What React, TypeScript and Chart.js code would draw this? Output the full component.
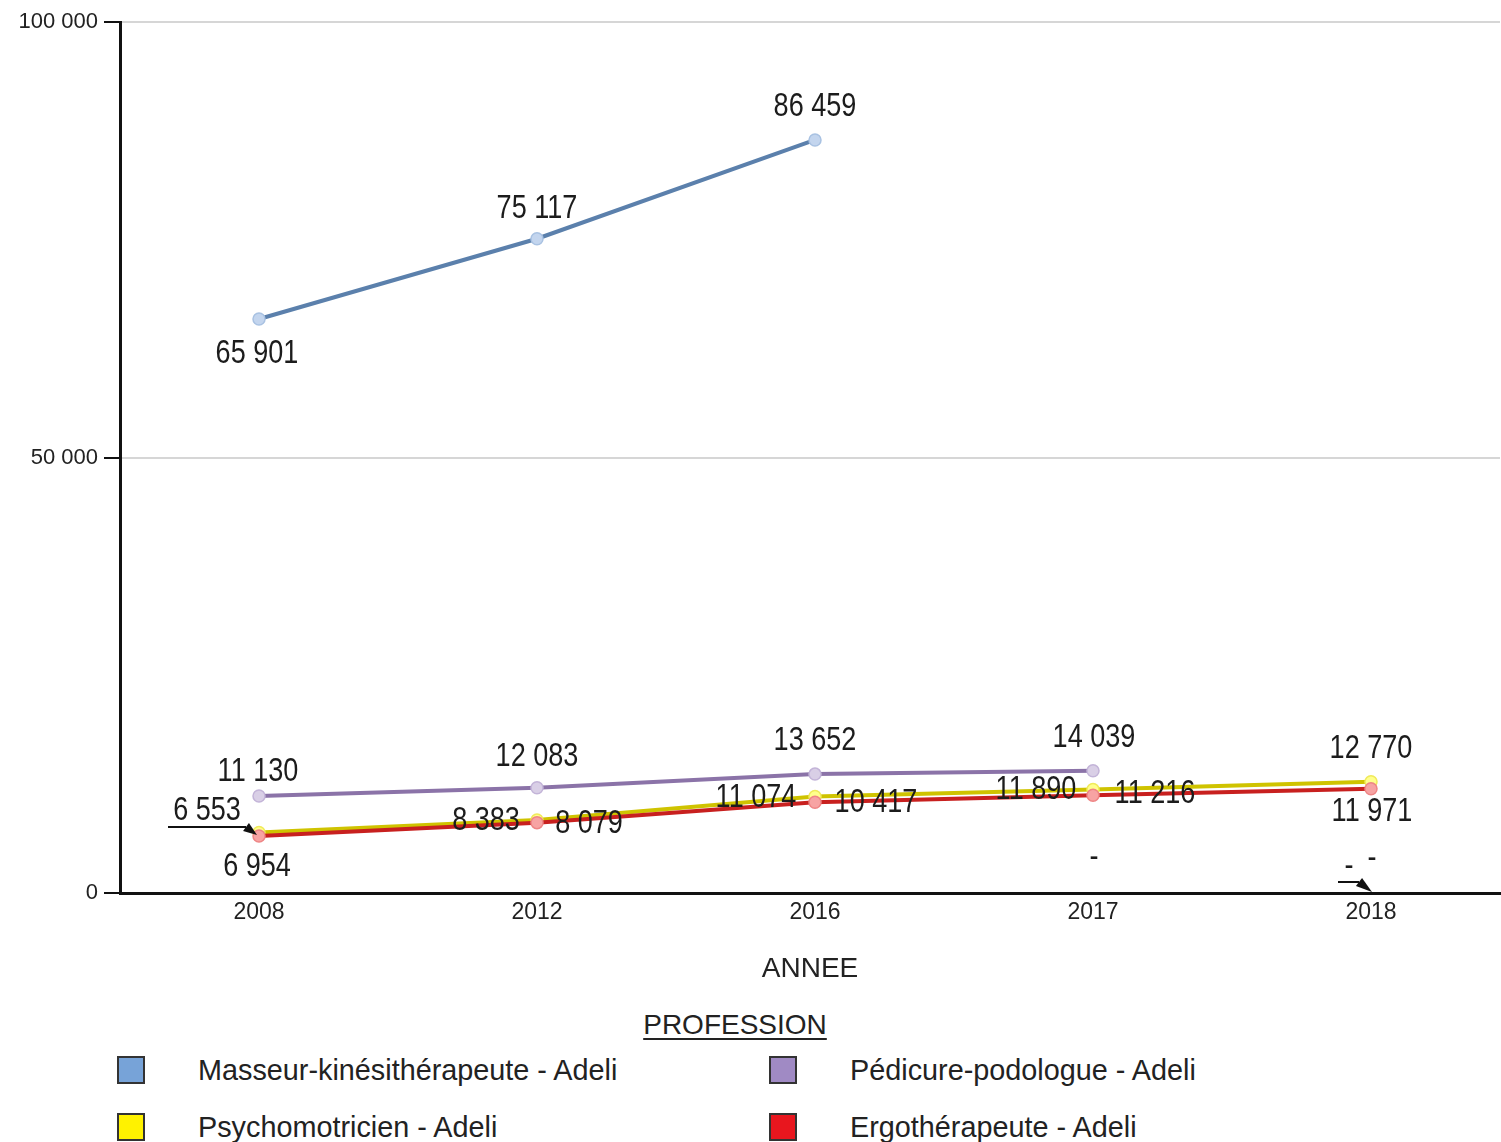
import React, { useEffect, useRef } from "react";
import { Chart, registerables } from "chart.js";

Chart.register(...registerables);

// ---------- data ----------
const categories = ["2008", "2012", "2016", "2017", "2018"];
const seriesNames = [
  "Masseur-kinésithérapeute - Adeli",
  "Pédicure-podologue - Adeli",
  "Psychomotricien - Adeli",
  "Ergothérapeute - Adeli",
];
const masseurValues: (number | null)[] = [65901, 75117, 86459, null, null];
const pedicureValues: (number | null)[] = [11130, 12083, 13652, 14039, null];
const psychoValues: (number | null)[] = [6954, 8383, 11074, 11890, 12770];
const ergoValues: (number | null)[] = [6553, 8079, 10417, 11216, 11971];
const yTickValues = [0, 50000, 100000];
const xAxisTitle = "ANNEE";
const legendTitle = "PROFESSION";

// ---------- styles ----------
const lineColors = ["#5b80ac", "#8b73a8", "#cfc300", "#c8201f"];
const pointFills = ["#c3d5ee", "#d9cfe6", "#ffff8c", "#f7a3a3"];
const pointBorders = ["#a9c2e2", "#c3b4d8", "#f0ea5a", "#ee8585"];
const legendColors = ["#77a3d8", "#a08ac4", "#fff200", "#e8161e"];
const drawOrder = [3, 2, 1, 0];

// label offsets (pixels, relative to the point / baseline for missing values)
const labelOffsets: [number, number][][] = [
  [[-2, 35], [0, -30], [0, -33], [1, -35], [1, -34]],
  [[-1, -24], [0, -31], [0, -33], [1, -33], [-22, -26]],
  [[-2, 34], [-51, 1], [-59, 1], [-57, 0], [0, -33]],
  [[-52, -25], [52, 1], [61, 1], [62, -1], [1, 23]],
];
// arrows: dataset, index, start offset, head base offset, tip offset
const arrows = [
  { ds: 3, i: 0, from: [-91, -9], base: [-13, -9], to: [-2, -1] },
  { ds: 1, i: 4, from: [-33, -11], base: [-12, -11], to: [1, -1] },
];

const SANS = '"Liberation Sans", Arial, sans-serif';
const LABEL_SCALE_X = 0.82;

function fmt(v: number): string {
  return String(Math.round(v)).replace(/\B(?=(\d{3})+(?!\d))/g, " ");
}

const valueLabelPlugin = {
  id: "valueLabels",
  afterDatasetsDraw(chart: any) {
    const ctx = chart.ctx as CanvasRenderingContext2D;
    const xs = chart.scales.x;
    const ys = chart.scales.y;
    ctx.save();
    ctx.font = `33px ${SANS}`;
    ctx.fillStyle = "#1c1c1c";
    ctx.textAlign = "center";
    ctx.textBaseline = "middle";
    const anchor = (di: number, i: number) => {
      const pt = chart.data.datasets[di].data[i];
      const px = xs.getPixelForValue(pt.x);
      const py = ys.getPixelForValue(pt.y == null ? 0 : pt.y);
      return [px, py];
    };
    chart.data.datasets.forEach((ds: any, di: number) => {
      ds.data.forEach((pt: any, i: number) => {
        const [px, py] = anchor(di, i);
        const [dx, dy] = labelOffsets[di][i];
        const text = pt.y == null ? "-" : fmt(pt.y);
        ctx.save();
        ctx.translate(px + dx, py + dy);
        ctx.scale(LABEL_SCALE_X, 1);
        ctx.fillText(text, 0, 0);
        ctx.restore();
      });
    });
    // arrows
    ctx.strokeStyle = "#111";
    ctx.fillStyle = "#111";
    ctx.lineWidth = 2;
    arrows.forEach((a) => {
      const [px, py] = anchor(a.ds, a.i);
      const x1 = px + a.from[0], y1 = py + a.from[1];
      const bx0 = px + a.base[0], by0 = py + a.base[1];
      const x2 = px + a.to[0], y2 = py + a.to[1];
      ctx.beginPath();
      ctx.moveTo(x1, y1);
      ctx.lineTo(bx0, by0);
      ctx.stroke();
      const ang = Math.atan2(y2 - by0, x2 - bx0);
      const hl = Math.hypot(x2 - bx0, y2 - by0);
      const hw = 5;
      const bx = x2 - hl * Math.cos(ang), by = y2 - hl * Math.sin(ang);
      ctx.beginPath();
      ctx.moveTo(x2, y2);
      ctx.lineTo(bx - hw * Math.sin(ang), by + hw * Math.cos(ang));
      ctx.lineTo(bx + hw * Math.sin(ang), by - hw * Math.cos(ang));
      ctx.closePath();
      ctx.fill();
    });
    ctx.restore();
  },
};

function ChartCanvas() {
  const ref = useRef<HTMLCanvasElement | null>(null);
  useEffect(() => {
    if (!ref.current) return;
    const series = [masseurValues, pedicureValues, psychoValues, ergoValues];
    const datasets = series.map((vals, si) => ({
      label: seriesNames[si],
      data: vals.map((v, i) => ({ x: i, y: v })),
      borderColor: lineColors[si],
      backgroundColor: pointFills[si],
      pointBackgroundColor: pointFills[si],
      pointBorderColor: pointBorders[si],
      pointBorderWidth: 1.5,
      pointRadius: 6,
      borderWidth: 4,
      order: drawOrder[si],
      spanGaps: false,
      fill: false,
      tension: 0,
    }));
    const chart = new Chart(ref.current, {
      type: "line",
      data: { datasets },
      plugins: [valueLabelPlugin],
      options: {
        responsive: false,
        animation: false,
        layout: { autoPadding: false, padding: { left: 0, right: 1, top: 22, bottom: 0 } },
        plugins: { legend: { display: false }, tooltip: { enabled: false } },
        scales: {
          x: {
            type: "linear",
            min: -0.5,
            max: (1380 / 278) - 0.5,
            afterBuildTicks: (scale: any) => {
              scale.ticks = categories.map((_, i) => ({ value: i }));
            },
            afterFit: (scale: any) => {
              scale.height = 107;
            },
            grid: { display: false, drawTicks: false },
            border: { display: true, color: "#111", width: 3 },
            ticks: {
              padding: 6,
              autoSkip: false,
              maxRotation: 0,
              color: "#222",
              font: { family: SANS, size: 23 },
              callback: (v: any) => categories[Math.round(Number(v))] ?? "",
            },
            title: {
              display: true,
              text: xAxisTitle,
              color: "#222",
              font: { family: SANS, size: 28 },
              padding: { top: 0, bottom: 14 },
            },
          },
          y: {
            type: "linear",
            min: 0,
            max: 100000,
            afterBuildTicks: (scale: any) => {
              scale.ticks = yTickValues.map((v) => ({ value: v }));
            },
            afterFit: (scale: any) => {
              scale.width = 120;
            },
            grid: {
              display: true,
              color: "#d6d6d6",
              lineWidth: 2,
              drawTicks: true,
              tickLength: 16,
              tickColor: "#111",
              tickWidth: 2,
            },
            border: { display: true, color: "#111", width: 3 },
            ticks: {
              padding: 6,
              color: "#222",
              font: { family: SANS, size: 22 },
              callback: (v: any) => fmt(Number(v)),
            },
          },
        },
      },
    } as any);
    return () => chart.destroy();
  }, []);
  return <canvas ref={ref} width={1501} height={1000} style={{ display: "block", width: 1501, height: 1000 }} />;
}

export default function App() {
  const rows = [
    [0, 1],
    [2, 3],
  ];
  const colSquareX = [117, 769];
  const colTextX = [198, 850];
  const rowCenterY = [1070, 1127];
  return (
    <div style={{ position: "absolute", left: 0, top: 0, width: 1501, height: 1142, background: "#fff", overflow: "hidden" }}>
      <ChartCanvas />
      <div
        style={{
          position: "absolute",
          left: 535,
          width: 400,
          top: 1008,
          textAlign: "center",
          fontFamily: SANS,
          fontSize: 28,
          lineHeight: "34px",
          color: "#222",
        }}
      >
        <span style={{ textDecoration: "underline", textDecorationThickness: 2, textUnderlineOffset: 4 }}>{legendTitle}</span>
      </div>
      {rows.map((row, ri) =>
        row.map((si, ci) => (
          <React.Fragment key={`${ri}-${ci}`}>
            <div
              style={{
                position: "absolute",
                left: colSquareX[ci],
                top: rowCenterY[ri] - 14,
                width: 24,
                height: 24,
                background: legendColors[si],
                border: "2px solid #333",
              }}
            />
            <div
              style={{
                position: "absolute",
                left: colTextX[ci],
                top: rowCenterY[ri] - 17,
                fontFamily: SANS,
                fontSize: 28.8,
                lineHeight: "34px",
                color: "#222",
                whiteSpace: "nowrap",
              }}
            >
              {seriesNames[si]}
            </div>
          </React.Fragment>
        ))
      )}
    </div>
  );
}
